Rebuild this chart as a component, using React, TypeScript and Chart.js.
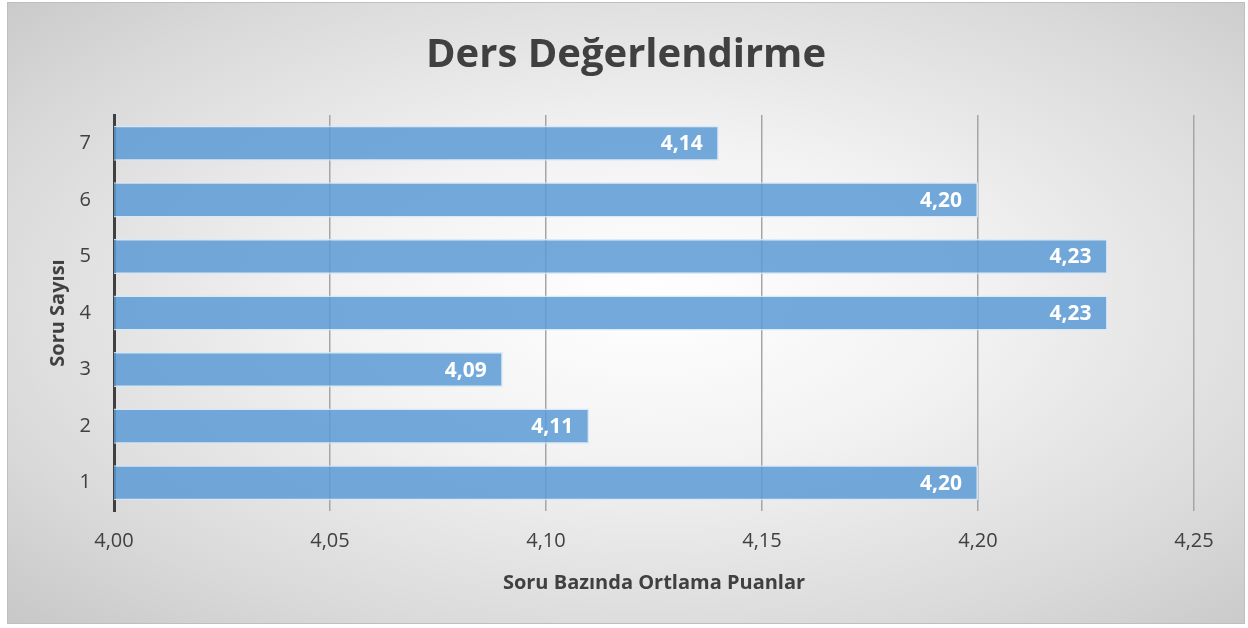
import React, { useEffect, useRef } from "react";
import { Chart, registerables } from "chart.js";

Chart.register(...registerables);

const categories = ["1", "2", "3", "4", "5", "6", "7"];
const scores = [4.2, 4.11, 4.09, 4.23, 4.23, 4.2, 4.14];
const xTicks = [4.0, 4.05, 4.1, 4.15, 4.2, 4.25];
const titleText = "Ders Değerlendirme";
const xTitle = "Soru Bazında Ortlama Puanlar";
const yTitle = "Soru Sayısı";

const fmt = (v: number) => v.toFixed(2).replace(".", ",");
const FONT = "'Open Sans', sans-serif";

const labelPlugin = {
  id: "barLabels",
  afterDatasetsDraw(chart: any) {
    const ctx = chart.ctx;
    const meta = chart.getDatasetMeta(0);
    ctx.save();
    ctx.fillStyle = "#ffffff";
    ctx.font = `bold 21px ${FONT}`;
    ctx.textAlign = "right";
    ctx.textBaseline = "middle";
    meta.data.forEach((bar: any, i: number) => {
      ctx.fillText(fmt(scores[i]), bar.x - 16, bar.y + 1);
    });
    ctx.restore();
  },
};

const titlePlugin = {
  id: "centeredTitle",
  afterDraw(chart: any) {
    const ctx = chart.ctx;
    ctx.save();
    ctx.fillStyle = "#404040";
    ctx.font = `bold 40px ${FONT}`;
    ctx.textAlign = "center";
    ctx.textBaseline = "middle";
    ctx.fillText(titleText, chart.width / 2, 53);
    ctx.restore();
  },
};

export default function App() {
  const ref = useRef<HTMLCanvasElement | null>(null);
  useEffect(() => {
    document.body.style.margin = "0";
    const chart = new Chart(ref.current!, {
      type: "bar",
      data: {
        labels: categories,
        datasets: [
          {
            data: scores,
            backgroundColor: "rgba(91,155,213,0.85)",
            borderColor: "rgba(215,232,248,0.9)",
            borderWidth: 1.5,
            borderSkipped: false,
            categoryPercentage: 0.62,
            barPercentage: 1,
          },
        ],
      },
      options: {
        indexAxis: "y",
        animation: false,
        responsive: false,
        layout: { padding: { left: 34, right: 50, top: 112, bottom: 24 } },
        plugins: {
          legend: { display: false },
          tooltip: { enabled: false },
          title: { display: false },
        },
        scales: {
          x: {
            min: 4.0,
            max: 4.25,
            afterBuildTicks: (s: any) => {
              s.ticks = xTicks.map((v) => ({ value: v }));
            },
            ticks: {
              color: "#404040",
              font: { family: FONT, size: 20 },
              padding: 18,
              callback: (v: any) => fmt(Number(v)),
            },
            grid: { color: "#a6a6a6", lineWidth: 1.5, drawTicks: false },
            border: { display: false },
            title: {
              display: true,
              text: xTitle,
              color: "#404040",
              font: { family: FONT, size: 20, weight: "bold" },
              padding: { top: 0 },
            },
          },
          y: {
            reverse: true,
            afterFit: (s: any) => {
              s.width = 72;
            },
            ticks: {
              color: "#404040",
              font: { family: FONT, size: 20 },
              padding: 23,
            },
            grid: { display: false, drawTicks: false },
            border: { color: "#404040", width: 3 },
            title: {
              display: true,
              text: yTitle,
              color: "#404040",
              font: { family: FONT, size: 20, weight: "bold" },
              padding: { top: 4, bottom: 0 },
            },
          },
        },
      },
      plugins: [labelPlugin, titlePlugin],
    });
    return () => chart.destroy();
  }, []);

  return (
    <div
      style={{
        position: "absolute",
        left: 7,
        top: 2,
        width: 1236,
        height: 620,
        border: "1.5px solid #bfbfbf",
        background:
          "radial-gradient(ellipse 75% 75% at 52% 48%, #ffffff 0%, #f2f2f2 35%, #d9d9d9 75%, #c6c6c6 100%)",
      }}
    >
      <canvas ref={ref} width={1236} height={620} style={{ display: "block" }} />
    </div>
  );
}
